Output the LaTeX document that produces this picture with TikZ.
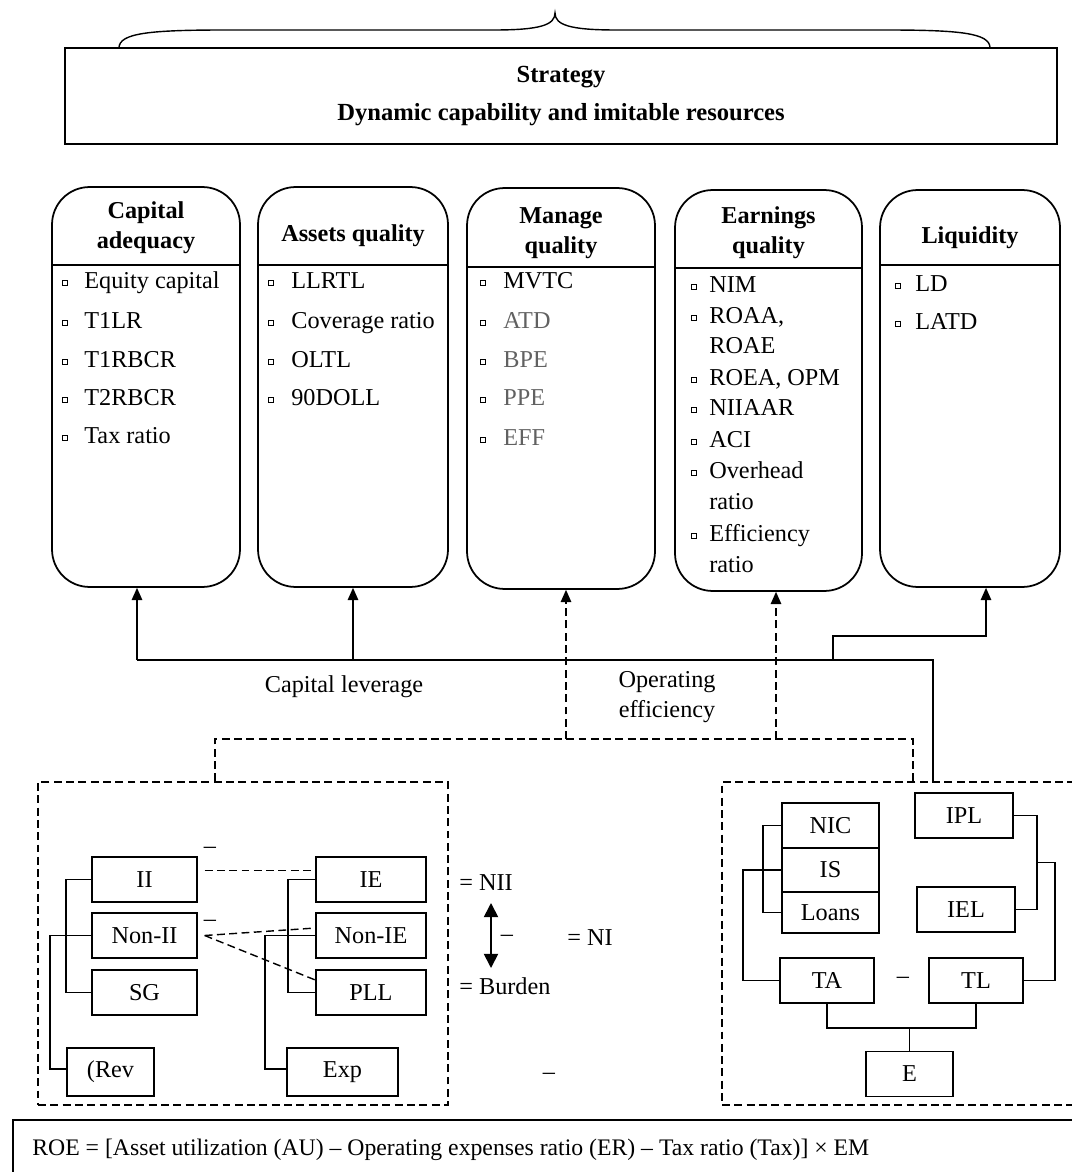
\documentclass[tikz,border=0pt]{standalone}
\usepackage{fontspec}
\setmainfont{Liberation Serif}
\usetikzlibrary{arrows.meta}

\newcommand{\txt}{\fontsize{13.8}{17}\selectfont}
\newcommand{\ttxt}{\bfseries\fontsize{13.8}{17}\selectfont}

\tikzset{
	rbx/.style={draw,line width=1pt,rounded corners=0.75cm,inner sep=0pt},
	cell/.style={draw,line width=0.8pt,inner sep=0pt,font=\txt},
	panel/.style={draw,line width=0.8pt,dash pattern=on 4.5pt off 2.5pt,inner sep=0pt},
	ttl/.style={align=center,font=\ttxt,inner sep=0pt},
	itm/.style={anchor=west,inner sep=0pt,font=\txt,text height=9pt,text depth=2.5pt},
	bul/.style={draw,line width=0.4pt,minimum size=0.1cm,inner sep=0pt},
	lbl/.style={font=\txt,inner sep=0pt},
	ln/.style={line width=0.8pt},
	dsh/.style={line width=0.8pt,dash pattern=on 4.5pt off 2.5pt},
	tip/.style={-{Triangle[length=7pt,width=6pt]}}
}

\begin{document}
\begin{tikzpicture}[x=0.02cm,y=-0.02cm]
		\useasboundingbox (0,0) rectangle (1071,1172);
		% strategy
		\node[draw,line width=1pt,minimum width=19.84cm,minimum height=1.92cm,align=center,
			font=\bfseries\fontsize{14}{21.5}\selectfont] (strat) at (561,96)
			{Strategy\\Dynamic capability and imitable resources};
		\draw[line width=0.8pt] (119,48) .. controls (119,33) and (150,30) .. (226,30) -- (494,30)
			.. controls (540,30) and (555,25) .. (555,13) .. controls (555,25) and (570,30) .. (616,30)
			-- (885,30) .. controls (960,30) and (990,33) .. (990,48);
		% CAMEL boxes
		\node[rbx,minimum width=3.76cm,minimum height=8cm] (cap) at (146,387) {};
		\node[rbx,minimum width=3.8cm,minimum height=8cm] (ast) at (353,387) {};
		\node[rbx,minimum width=3.76cm,minimum height=8.02cm] (mng) at (561,388.5) {};
		\node[rbx,minimum width=3.74cm,minimum height=8.02cm] (ern) at (768.5,390.5) {};
		\node[rbx,minimum width=3.6cm,minimum height=7.94cm] (liq) at (970,388.5) {};
		\coordinate (hc) at (0,265);
		\coordinate (hm) at (0,267);
		\coordinate (he) at (0,268);
		\draw[line width=1pt] (cap.west |- hc) -- (cap.east |- hc);
		\draw[line width=1pt] (ast.west |- hc) -- (ast.east |- hc);
		\draw[line width=1pt] (mng.west |- hm) -- (mng.east |- hm);
		\draw[line width=1pt] (ern.west |- he) -- (ern.east |- he);
		\draw[line width=1pt] (liq.west |- hc) -- (liq.east |- hc);
		\node[ttl] (capt) at (146,228) {Capital\\adequacy};
		\node[ttl] (astt) at (353,236) {Assets quality};
		\node[ttl] (mngt) at (561,233) {Manage\\quality};
		\node[ttl] (ernt) at (768.5,233) {Earnings\\quality};
		\node[ttl] (liqt) at (970,238) {Liquidity};
		% indicators
		\foreach \y/\t [count=\i] in {283/Equity capital,323/T1LR,362/T1RBCR,400/T2RBCR,438/Tax ratio}
			{\node[bul] (capb\i) at (65,\y) {}; \node[itm] (capi\i) at (84,\y) {\t};}
		\foreach \y/\t [count=\i] in {283/LLRTL,323/Coverage ratio,362/OLTL,400/90DOLL}
			{\node[bul] (astb\i) at (271,\y) {}; \node[itm] (asti\i) at (291,\y) {\t};}
		\node[bul] (mngb1) at (483,283) {};
		\node[itm] (mngi1) at (503,283) {MVTC};
		\foreach \y/\t [count=\i from 2] in {323/ATD,362/BPE,400/PPE,440/EFF}
			{\node[bul] (mngb\i) at (483,\y) {}; \node[itm,text=black!62] (mngi\i) at (503,\y) {\t};}
		\foreach \y [count=\i] in {287,318,380,410,442,473,536}
			\node[bul] (ernb\i) at (694,\y) {};
		\foreach \y/\t [count=\i] in {287/NIM,318/{ROAA,},348/ROAE,380/{ROEA, OPM},410/NIIAAR,
			442/ACI,473/Overhead,504/ratio,536/Efficiency,567/ratio}
			\node[itm] (erni\i) at (709,\y) {\t};
		\foreach \y/\t [count=\i] in {286/LD,324/LATD}
			{\node[bul] (liqb\i) at (898,\y) {}; \node[itm] (liqi\i) at (915,\y) {\t};}
		% links
		\node[panel,minimum width=8.2cm,minimum height=6.46cm] (incm) at (243,943.5) {};
		\node[panel,minimum width=7.56cm,minimum height=6.46cm] (bal) at (911,943.5) {};
		\coordinate (a1) at (137,660);
		\coordinate (a2) at (353,660);
		\coordinate (t1) at (933,660);
		\coordinate (s1) at (833,660);
		\coordinate (s2) at (986,636);
		\draw[ln] (a1) -- (t1) -- (t1 |- bal.north);
		\draw[ln,tip] (a1) -- (a1 |- cap.south);
		\draw[ln,tip] (a2) -- (a2 |- ast.south);
		\draw[ln,tip] (s1) |- (s2) -- (s2 |- liq.south);
		\coordinate (d1) at (215,739);
		\coordinate (d2) at (913,739);
		\coordinate (m1) at (566,739);
		\coordinate (e1) at (776,739);
		\draw[dsh] (incm.north -| d1) -- (d1) -- (d2) -- (d2 |- bal.north);
		\draw[dsh,tip] (m1) -- (m1 |- mng.south);
		\draw[dsh,tip] (e1) -- (e1 |- ern.south);
		\node[lbl] (lev) at (344,687) {Capital leverage};
		\node[lbl,align=center] (opf) at (667,697) {Operating\\efficiency};
		% income statement
		\node[cell,minimum width=2.1cm,minimum height=0.9cm] (ii) at (144.5,879.5) {II};
		\node[cell,minimum width=2.1cm,minimum height=0.9cm] (nii) at (144.5,935.5) {Non-II};
		\node[cell,minimum width=2.1cm,minimum height=0.9cm] (sg) at (144.5,992.5) {SG};
		\node[cell,minimum width=1.74cm,minimum height=0.96cm] (rev) at (110.5,1072) {(Rev};
		\node[cell,minimum width=2.2cm,minimum height=0.9cm] (ie) at (371,879.5) {IE};
		\node[cell,minimum width=2.2cm,minimum height=0.9cm] (nie) at (371,935.5) {Non-IE};
		\node[cell,minimum width=2.2cm,minimum height=0.9cm] (pll) at (371,992.5) {PLL};
		\node[cell,minimum width=2.22cm,minimum height=0.96cm] (exp) at (342.5,1072) {Exp};
		\coordinate (lbr) at (66,940);
		\coordinate (lob) at (50,1000);
		\coordinate (rbr) at (288,940);
		\coordinate (rob) at (265,1000);
		\draw[ln] (ii.west) -| (lbr) |- (sg.west);
		\draw[ln] (nii.west) -| (lob) |- ([yshift=0.06cm]rev.west);
		\draw[ln] (ie.west) -| (rbr) |- (pll.west);
		\draw[ln] (nie.west) -| (rob) |- ([yshift=0.06cm]exp.west);
		\draw[dsh] ([xshift=0.14cm,yshift=0.18cm]ii.east) -- ([yshift=0.18cm]ie.west);
		\draw[dsh] ([xshift=0.14cm]nii.east) -- ([yshift=0.15cm]nie.west);
		\draw[dsh] ([xshift=0.14cm]nii.east) -- ([yshift=0.25cm]pll.west);
		\node[lbl] (m2) at (210,850) {--};
		\node[lbl] (m3) at (210,923) {--};
		\node[lbl,anchor=west] (nii2) at (459,883) {= NII};
		\node[lbl,anchor=west] (bur) at (459,986) {= Burden};
		\coordinate (dt) at (491,903);
		\coordinate (db) at (491,968);
		\draw[line width=1pt,{Triangle[length=8pt,width=8pt]}-{Triangle[length=8pt,width=8pt]}] (dt) -- (db);
		\node[lbl] (m4) at (507,938) {--};
		\node[lbl,anchor=west] (ni) at (567,938) {= NI};
		\node[lbl] (m5) at (549,1076) {--};
		% balance sheet
		\node[cell,minimum width=1.94cm,minimum height=0.9cm] (nic) at (830.5,825.5) {NIC};
		\node[cell,minimum width=1.94cm,minimum height=0.88cm] (is) at (830.5,870) {IS};
		\node[cell,minimum width=1.94cm,minimum height=0.82cm] (loans) at (830.5,912.5) {Loans};
		\node[cell,minimum width=1.96cm,minimum height=0.9cm] (ipl) at (964,815.5) {IPL};
		\node[cell,minimum width=1.96cm,minimum height=0.9cm] (iel) at (966,909.5) {IEL};
		\node[cell,minimum width=1.88cm,minimum height=0.9cm] (ta) at (827,980.5) {TA};
		\node[cell,minimum width=1.88cm,minimum height=0.9cm] (tl) at (976,980.5) {TL};
		\node[cell,minimum width=1.74cm,minimum height=0.9cm] (e) at (909.5,1074) {E};
		\node[lbl] (m6) at (903,980) {--};
		\coordinate (nbr) at (763,870);
		\coordinate (tbr) at (743,920);
		\coordinate (pbr) at (1037,862.5);
		\coordinate (qbr) at (1055,920);
		\coordinate (jn) at (909.5,1028);
		\draw[ln] (nic.west) -| (nbr) |- (loans.west);
		\draw[ln] (is.west) -| (tbr) |- (ta.west);
		\draw[ln] (ipl.east) -| (pbr) |- (iel.east);
		\draw[ln] (pbr) -| (qbr) |- (tl.east);
		\draw[ln] (ta.south) |- (jn) -| (tl.south);
		\draw[ln] (jn) -- (e.north);
		% ROE
		\node[draw,line width=1pt,anchor=north west,minimum width=22cm,minimum height=2cm] (roebox) at (12,1119) {};
		\node[lbl,anchor=west,font=\fontsize{13.5}{17}\selectfont] (roe) at (32,1150) {ROE = [Asset utilization (AU) – Operating expenses ratio (ER) – Tax ratio (Tax)] × EM};
		\end{tikzpicture}
\end{document}
